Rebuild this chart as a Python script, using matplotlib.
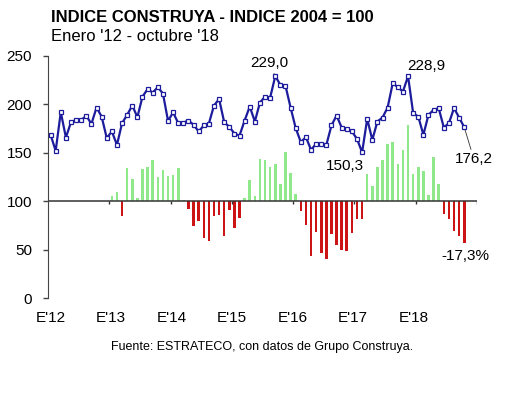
import numpy as np
import matplotlib
matplotlib.use('Agg')
import matplotlib.pyplot as plt

plt.rcParams['font.family'] = 'Liberation Sans'

# indice mensual ene-12 .. oct-18
indice = [168.4, 151.9, 191.8, 165.6, 181.4, 183.8, 183.8, 187.9, 179.7, 196.5, 187.2, 165.0,
          171.8, 158.0, 180.4, 189.0, 198.6, 186.6, 207.8, 215.5, 212.0, 217.5, 211.0, 182.8,
          191.4, 180.4, 181.0, 183.1, 178.7, 171.8, 178.0, 180.0, 198.6, 205.2, 181.4, 176.6,
          169.7, 167.6, 183.1, 197.5, 182.1, 201.7, 207.8, 206.8, 229.0, 219.9, 218.9, 196.5,
          175.3, 160.8, 166.0, 152.9, 159.1, 158.8, 158.0, 178.0, 188.3, 175.9, 174.5, 171.8,
          164.2, 150.3, 184.8, 163.2, 182.1, 186.2, 196.5, 221.6, 217.5, 213.0, 228.9, 190.7,
          187.2, 168.4, 189.0, 194.1, 195.9, 175.9, 180.4, 195.9, 186.2, 176.2]

# variacion interanual (%) ene-13 .. oct-18
var_ia = [1.9, 3.7, -6.2, 13.5, 9.2, 1.4, 13.1, 14.2, 16.8, 9.9, 12.7, 10.3,
          10.7, 13.5, 0.3, -3.4, -10.3, -8.2, -15.1, -16.5, -6.2, -5.9, -14.4, -3.8,
          -11.3, -7.1, 1.1, 8.5, 2.1, 17.2, 16.9, 14.2, 15.5, 7.2, 20.2, 11.7,
          2.8, -4.1, -9.9, -22.7, -12.6, -21.3, -24.0, -13.7, -18.0, -20.0, -20.5, -13.0,
          -7.3, -7.3, 11.0, 6.2, 14.2, 16.9, 23.4, 24.3, 15.4, 21.0, 31.2, 11.0,
          14.0, 12.4, 2.4, 18.3, 7.2, -5.5, -7.5, -12.4, -14.4, -17.3]

anios = ["E'12", "E'13", "E'14", "E'15", "E'16", "E'17", "E'18"]

meses = np.arange(len(indice))
meses_var = meses[12:]
azul = '#1c1c9c'

fig = plt.figure(figsize=(5.30, 3.99), dpi=100)
ax = fig.add_axes([0.0906, 0.2531, 0.8094, 0.6073])
ax2 = ax.twinx()
ax.set_zorder(2)
ax.patch.set_visible(False)

# barras (eje secundario oculto)
cols = ['#8fe88a' if v >= 0 else '#cc1414' for v in var_ia]
ax2.bar(meses_var, var_ia, width=0.5, color=cols, zorder=2)
ax2.axhline(0, color='#333333', lw=1.1, zorder=3)
ax2.vlines(np.arange(1, 8) * 12 - 0.5, -1.4, 0, color='#333333', lw=1)
ax2.set_ylim(-40, 60)
ax2.axis('off')

# linea del indice
ax.plot(meses, indice, color=azul, lw=1.6, marker='s', ms=3.3, mfc='white',
        mec=azul, mew=0.9, zorder=4)

ax.set_xlim(-0.5, 83.5)
ax.set_ylim(0, 250)
ax.set_yticks([0, 50, 100, 150, 200, 250])
ax.set_xticks(np.arange(len(anios)) * 11.85)
ax.set_xticklabels(anios)
ax.tick_params(axis='x', length=0, pad=9, labelsize=11)
ax.tick_params(axis='y', length=3.5, width=1, color='#444444', pad=8, labelsize=11,
               direction='out')
for s in ['top', 'right', 'bottom']:
    ax.spines[s].set_visible(False)
ax.spines['left'].set_color('#444444')

# etiquetas
ax.annotate('229,0', xy=(44, indice[44]), xytext=(-4, 4), textcoords='offset points',
            ha='center', va='bottom', fontsize=11,
            arrowprops=dict(arrowstyle='-', color='#333333', lw=0.6, shrinkA=0, shrinkB=2))
ax.annotate('228,9', xy=(70, indice[70]), xytext=(13, 2), textcoords='offset points',
            ha='center', va='bottom', fontsize=11)
ax.annotate('150,3', xy=(61, indice[61]), xytext=(-12.5, -5), textcoords='offset points',
            ha='center', va='top', fontsize=11)
ax.annotate('176,2', xy=(81, indice[81]), xytext=(7, -18), textcoords='offset points',
            ha='center', va='top', fontsize=11,
            arrowprops=dict(arrowstyle='-', color='#333333', lw=0.6, shrinkA=0, shrinkB=2))
ax2.annotate('-17,3%', xy=(81, var_ia[-1]), xytext=(1, -4), textcoords='offset points',
             ha='center', va='top', fontsize=11)

fig.text(0.097, 0.976, 'INDICE CONSTRUYA - INDICE 2004 = 100', fontsize=12,
         fontweight='bold', va='top', ha='left')
fig.text(0.097, 0.928, "Enero '12 - octubre '18", fontsize=12, va='top', ha='left')
fig.text(0.495, 0.13, 'Fuente: ESTRATECO, con datos de Grupo Construya.', fontsize=9,
         ha='center', va='center')

fig.savefig('out.png', dpi=100)
